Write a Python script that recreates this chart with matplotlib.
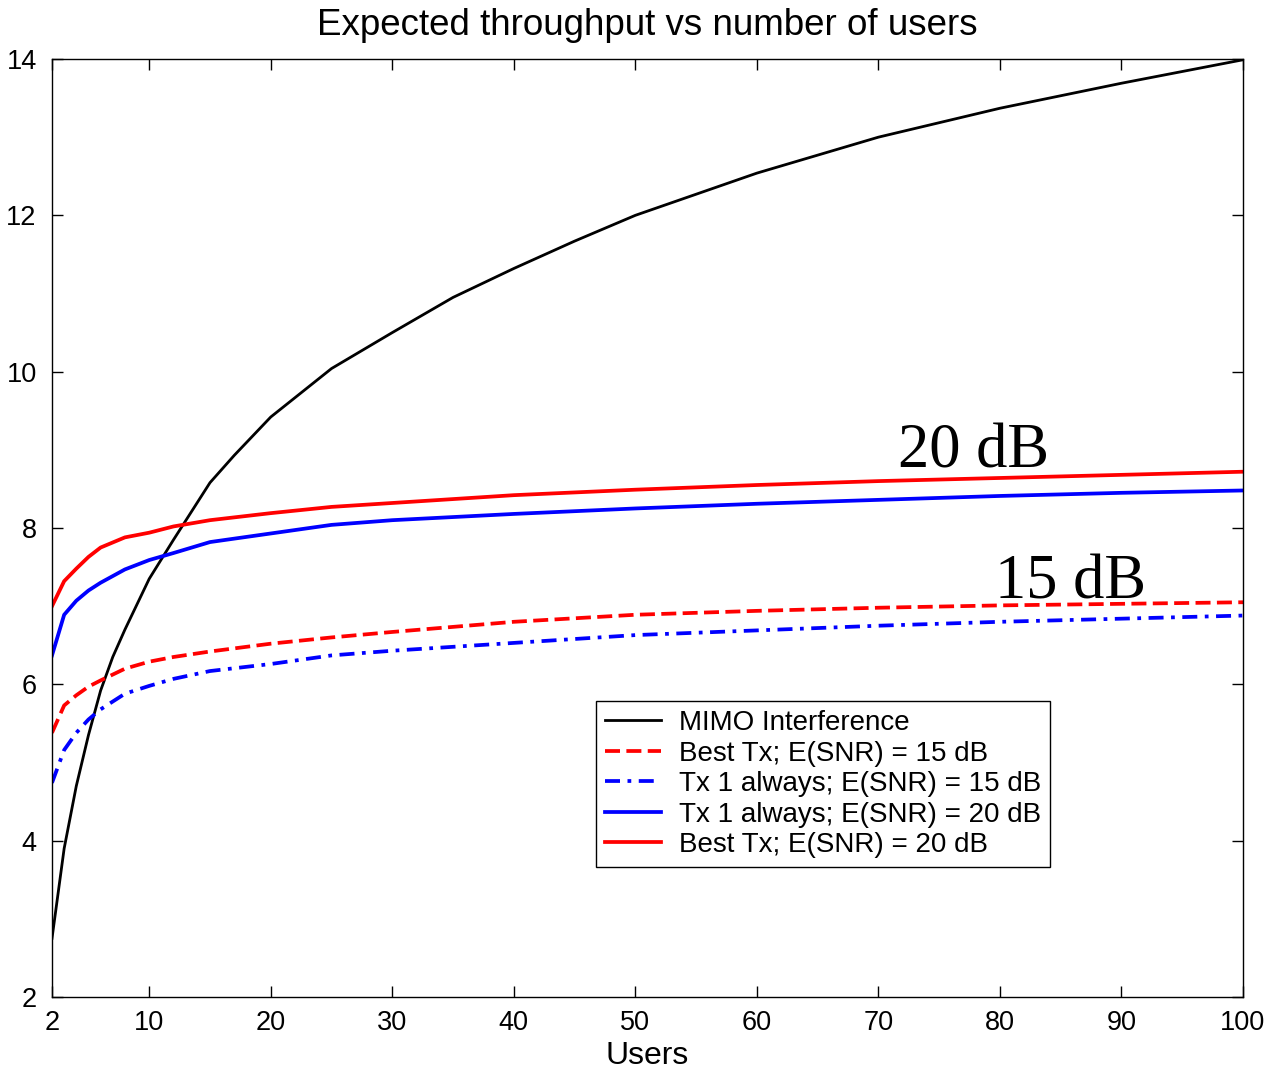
import matplotlib
matplotlib.use("Agg")
import matplotlib.pyplot as plt

plt.rcParams['font.family'] = ['Liberation Sans', 'DejaVu Sans']

# Users grid for the colored curves
users = [2, 3, 4, 5, 6, 8, 10, 12, 15, 20, 25, 30, 40, 50, 60, 70, 80, 90, 100]
best_tx_20 = [7.00, 7.32, 7.48, 7.63, 7.75, 7.88, 7.94, 8.02, 8.10, 8.19, 8.27, 8.32,
              8.42, 8.49, 8.55, 8.60, 8.64, 8.68, 8.72]
tx1_20 = [6.37, 6.89, 7.07, 7.20, 7.30, 7.47, 7.59, 7.68, 7.82, 7.93, 8.04, 8.10,
          8.18, 8.25, 8.31, 8.36, 8.41, 8.45, 8.48]
best_tx_15 = [5.38, 5.73, 5.86, 5.97, 6.05, 6.20, 6.29, 6.35, 6.42, 6.52, 6.60, 6.67,
              6.80, 6.89, 6.94, 6.98, 7.01, 7.03, 7.05]
tx1_15 = [4.74, 5.16, 5.38, 5.55, 5.68, 5.88, 5.98, 6.07, 6.17, 6.26, 6.37, 6.43,
          6.53, 6.63, 6.69, 6.75, 6.80, 6.84, 6.88]

# MIMO interference curve
mimo_users = [2, 3, 4, 5, 6, 7, 8, 10, 12, 15, 17, 20, 25, 30, 35, 40, 45, 50,
              60, 70, 80, 90, 100]
mimo = [2.75, 3.90, 4.70, 5.35, 5.92, 6.35, 6.70, 7.35, 7.85, 8.58, 8.93, 9.42,
        10.04, 10.50, 10.95, 11.32, 11.67, 12.00, 12.54, 13.00, 13.37, 13.69, 13.99]

xticks = [2, 10, 20, 30, 40, 50, 60, 70, 80, 90, 100]
yticks = [2, 4, 6, 8, 10, 12, 14]

fig = plt.figure(figsize=(12.77, 10.72), dpi=100)
ax = fig.add_axes([52 / 1277, 1 - 997 / 1072, (1243 - 52) / 1277, (997 - 59) / 1072])

ax.plot(mimo_users, mimo, color='black', lw=2.0, label='MIMO Interference')
ax.plot(users, best_tx_15, color='red', lw=2.7, dashes=(4, 1.7),
        label='Best Tx; E(SNR) = 15 dB')
ax.plot(users, tx1_15, color='blue', lw=2.7, dashes=(4, 2, 1, 2),
        label='Tx 1 always; E(SNR) = 15 dB')
ax.plot(users, tx1_20, color='blue', lw=2.7, label='Tx 1 always; E(SNR) = 20 dB')
ax.plot(users, best_tx_20, color='red', lw=2.7, label='Best Tx; E(SNR) = 20 dB')

ax.set_xlim(2, 100)
ax.set_ylim(2, 14)
ax.set_xticks(xticks)
ax.set_yticks(yticks)
ax.tick_params(direction='in', top=True, right=True, length=8, width=1, labelsize=19.5)
ax.tick_params(axis='x', pad=9)
ax.tick_params(axis='y', pad=11)
for s in ax.spines.values():
    s.set_linewidth(1)

ax.set_title('Expected throughput vs number of users', fontsize=26.5, pad=17)
ax.set_xlabel('Users', fontsize=23, labelpad=4)

ax.text(71.6, 8.78, '20 dB', fontsize=45, family=['Liberation Serif', 'DejaVu Serif'])
ax.text(79.6, 7.10, '15 dB', fontsize=45, family=['Liberation Serif', 'DejaVu Serif'])

leg = ax.legend(loc='upper left', bbox_to_anchor=(596 / 1277, 1 - 701 / 1072),
                bbox_transform=fig.transFigure, fontsize=20, frameon=True,
                fancybox=False, edgecolor='black', framealpha=1,
                handlelength=2.0, handletextpad=0.65, labelspacing=0.16,
                borderpad=0.33, borderaxespad=0)
leg.get_frame().set_linewidth(1)

fig.savefig('out.png', dpi=100)
